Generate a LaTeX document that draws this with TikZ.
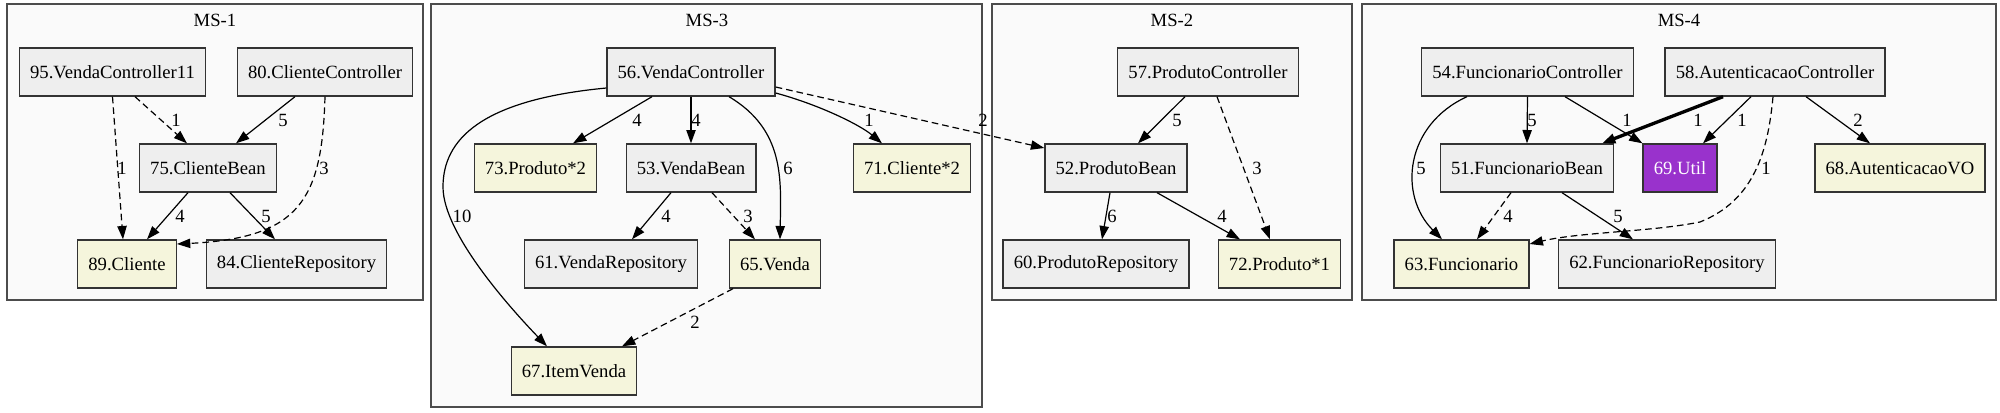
\documentclass[tikz,border=0pt]{standalone}
\usepackage{fontspec}
\setmainfont{Liberation Serif}
\usepackage{tikz}
\usetikzlibrary{arrows.meta,calc}
\definecolor{cinza}{HTML}{EEEEEE}
\definecolor{bege}{HTML}{F5F5DC}
\definecolor{roxo}{HTML}{9932CC}
\definecolor{fundo}{HTML}{FAFAFA}
\newcommand{\cbranco}[1]{\textcolor{white}{#1}}

\begin{document}
\begin{tikzpicture}[x=0.75pt, y=-0.75pt,
  every node/.style = {font=\fontsize{14}{16}\selectfont},
  classe/.style = {draw=black!80, fill=cinza, line width=1pt,
    minimum height=36pt, inner xsep=8pt, inner ysep=0pt},
  entidade/.style = {classe, fill=bege},
  util/.style = {classe, fill=roxo},
  grupo/.style = {draw=black!70, fill=fundo, line width=1pt},
  dep/.style = {-{Triangle[length=10pt,width=7pt]}, line width=0.9pt},
  fraca/.style = {dep, dash pattern=on 5pt off 3pt},
  forte/.style = {dep, line width=2.5pt},
  peso/.style = {inner sep=0pt}]
  \useasboundingbox (0,0) rectangle (2000,412);
  \draw[grupo] (7,4) rectangle (423,300);
  \draw[grupo] (431,4) rectangle (982,407);
  \draw[grupo] (992,4) rectangle (1352,300);
  \draw[grupo] (1362,4) rectangle (1996,300);
  \node (ms1) at (215,20) {MS-1};
  \node (ms3) at (707,20) {MS-3};
  \node (ms2) at (1172,20) {MS-2};
  \node (ms4) at (1679,20) {MS-4};

  \node[classe] (n95) at (112.5,72) {95.VendaController11};
  \node[classe] (n80) at (325,72) {80.ClienteController};
  \node[classe] (n75) at (208,168) {75.ClienteBean};
  \node[entidade] (n89) at (127,264) {89.Cliente};
  \node[classe] (n84) at (296.5,264) {84.ClienteRepository};

  \node[classe] (n56) at (691,72) {56.VendaController};
  \node[entidade] (n73) at (535.5,168) {73.Produto*2};
  \node[classe] (n53) at (691,168) {53.VendaBean};
  \node[entidade] (n71) at (912,168) {71.Cliente*2};
  \node[classe] (n61) at (611,264) {61.VendaRepository};
  \node[entidade] (n65) at (775,264) {65.Venda};
  \node[entidade] (n67) at (574,371) {67.ItemVenda};

  \node[classe] (n57) at (1208,72) {57.ProdutoController};
  \node[classe] (n52) at (1116,168) {52.ProdutoBean};
  \node[classe] (n60) at (1096,264) {60.ProdutoRepository};
  \node[entidade] (n72) at (1279.5,264) {72.Produto*1};

  \node[classe] (n54) at (1527.5,72) {54.FuncionarioController};
  \node[classe] (n58) at (1775,72) {58.AutenticacaoController};
  \node[classe] (n51) at (1527,168) {51.FuncionarioBean};
  \node[util] (n69) at (1680,168) {\cbranco{69.Util}};
  \node[entidade] (n68) at (1900,168) {68.AutenticacaoVO};
  \node[entidade] (n63) at (1461.5,264) {63.Funcionario};
  \node[classe] (n62) at (1667,264) {62.FuncionarioRepository};

  \draw[fraca] ($(n95.south)+(22.5,0)$) -- ($(n75.north)+(-21,0)$) node[peso] at (176,120) {1};
  \draw[dep] ($(n80.south)+(-30,0)$) -- ($(n75.north)+(28,0)$) node[peso] at (283,120) {5};
  \draw[fraca] (n95.south) -- ($(n89.north)+(-4,0)$) node[peso] at (122,168) {1};
  \draw[fraca] (n80.south) .. controls (322,200) and (300,238) .. ($(n89.east)+(0,-20)$) node[peso] at (324,168) {3};
  \draw[dep] ($(n75.south)+(-20,0)$) -- ($(n89.north)+(20,0)$) node[peso] at (180,216) {4};
  \draw[dep] ($(n75.south)+(22,0)$) -- ($(n84.north)+(-21.5,0)$) node[peso] at (266,216) {5};

  \draw[dep] ($(n56.south)+(-39,0)$) -- ($(n73.north)+(37.5,0)$) node[peso] at (637,120) {4};
  \draw[dep] (n56.south) -- (n53.north) node[peso] at (696,120) {4};
  \draw[dep] ($(n56.south)+(38,0)$) .. controls (785,130) and (781,180) .. ($(n65.north)+(5,0)$) node[peso] at (788,168) {6};
  \draw[dep] ($(n56.west)+(0,16)$) .. controls (480,100) and (443,140) .. (443,187)
    .. controls (443,235) and (515,313) .. ($(n67.north)+(-27,0)$) node[peso] at (462,216) {10};
  \draw[dep] ($(n56.east)+(0,21)$) .. controls (820,105) and (860,125) .. ($(n71.north)+(-30,0)$) node[peso] at (869,120) {1};
  \draw[fraca] ($(n56.east)+(0,15)$) -- ($(n52.west)+(0,-20)$) node[peso] at (983,120) {2};
  \draw[dep] ($(n53.south)+(-20,0)$) -- ($(n61.north)+(21,0)$) node[peso] at (666,216) {4};
  \draw[fraca] ($(n53.south)+(21,0)$) -- ($(n65.north)+(-20,0)$) node[peso] at (748,216) {3};
  \draw[fraca] ($(n65.south)+(-42,0)$) -- ($(n67.north)+(48,0)$) node[peso] at (695,322) {2};

  \draw[dep] ($(n57.south)+(-23,0)$) -- ($(n52.north)+(22,0)$) node[peso] at (1177,120) {5};
  \draw[fraca] ($(n57.south)+(9,0)$) -- ($(n72.north)+(-9.5,0)$) node[peso] at (1257,168) {3};
  \draw[dep] ($(n52.south)+(-6,0)$) -- ($(n60.north)+(6,0)$) node[peso] at (1112,216) {6};
  \draw[dep] ($(n52.south)+(41,0)$) -- ($(n72.north)+(-39.5,0)$) node[peso] at (1222,216) {4};

  \draw[dep] (n54.south) -- (n51.north) node[peso] at (1532,120) {5};
  \draw[dep] ($(n54.south)+(-60.5,0)$) .. controls (1405,125) and (1398,195) .. ($(n63.north)+(-19.5,0)$) node[peso] at (1421,168) {5};
  \draw[dep] ($(n54.south)+(37.5,0)$) -- (n69.north west) node[peso] at (1627,120) {1};
  \draw[forte] ($(n58.south)+(-52,0)$) -- ($(n51.north)+(75,0)$) node[peso] at (1698,120) {1};
  \draw[dep] ($(n58.south)+(-24,0)$) -- ($(n69.north)+(23,0)$) node[peso] at (1742,120) {1};
  \draw[fraca] ($(n58.south)+(-2,0)$) .. controls (1768,150) and (1755,200) .. (1700,222)
    .. controls (1650,232) and (1580,232) .. ($(n63.east)+(0,-20)$) node[peso] at (1766,168) {1};
  \draw[dep] ($(n58.south)+(31,0)$) -- ($(n68.north)+(-30,0)$) node[peso] at (1858,120) {2};
  \draw[fraca] ($(n51.south)+(-16,0)$) -- ($(n63.north)+(15.5,0)$) node[peso] at (1508,216) {4};
  \draw[dep] ($(n51.south)+(35,0)$) -- ($(n62.north)+(-34,0)$) node[peso] at (1618,216) {5};
\end{tikzpicture}
\end{document}
